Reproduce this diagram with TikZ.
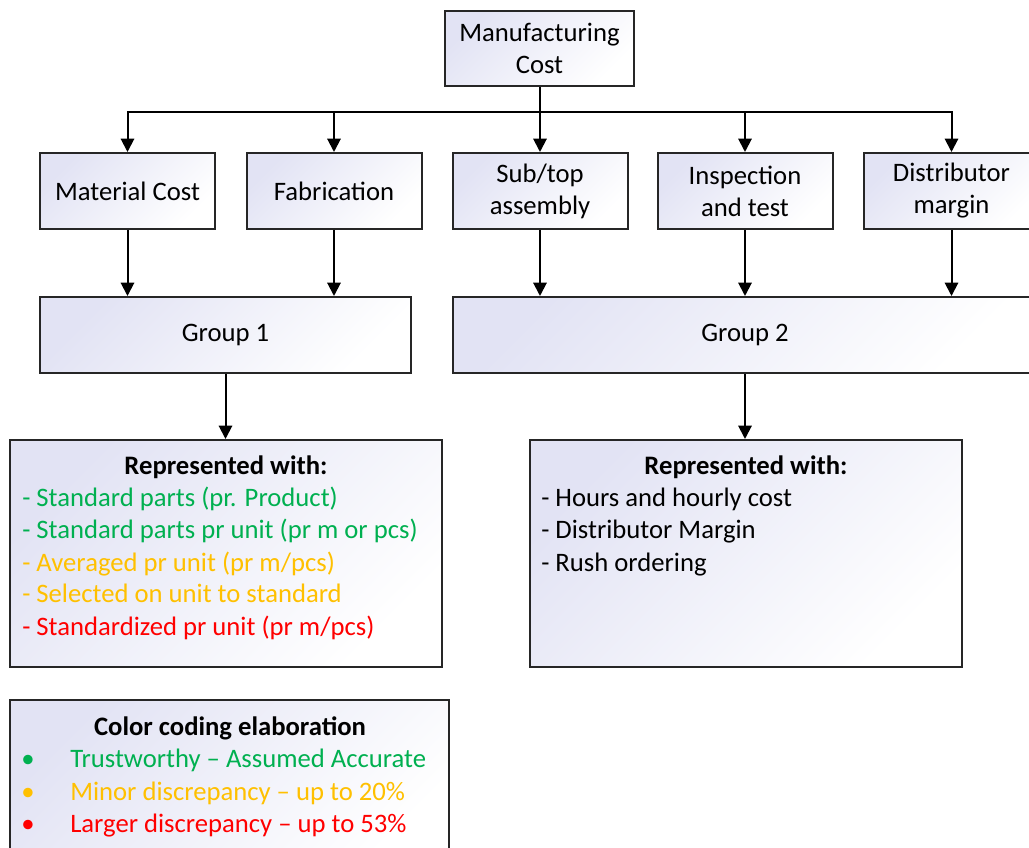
\documentclass[tikz,border=0pt]{standalone}
\usepackage{fontspec}
\setmainfont{Carlito}
\usetikzlibrary{arrows.meta}
\definecolor{okgreen}{RGB}{0,176,80}
\definecolor{midamber}{RGB}{255,192,0}
\definecolor{badred}{RGB}{255,0,0}
\definecolor{boxtint}{RGB}{226,227,244}
\definecolor{boxline}{RGB}{38,38,38}

\begin{document}
\begin{tikzpicture}[x=0.75pt,y=-0.75pt,
    every node/.style={font=\fontsize{20}{24}\selectfont},
    costbox/.style={draw=boxline, line width=1.5pt, top color=boxtint, bottom color=white,
      shading angle=45, align=center, inner sep=0pt},
    stagebox/.style={costbox, minimum width=131.25pt, minimum height=57pt},
    groupbox/.style={costbox, minimum height=57pt},
    notebox/.style={costbox, minimum width=324pt, minimum height=170.25pt},
    headline/.style={anchor=base, inner sep=0pt, font=\fontsize{20}{24}\selectfont\bfseries},
    listline/.style={anchor=base west, inner sep=0pt},
    flow/.style={line width=1.5pt, -{Triangle[width=10pt,length=10pt]}}]
  \useasboundingbox (0,0) rectangle (1029,848);

  % top of the tree
  \node[costbox, minimum width=141.75pt, minimum height=56.25pt] (mfg) at (539.5,48.5) {Manufacturing\\Cost};
  \coordinate (split) at (539.5,112);
  \draw[line width=1.5pt] (mfg.south) -- (split);

  % cost elements
  \foreach \name/\x/\txt in {mat/127.5/Material Cost, fab/334/Fabrication, sub/540/{Sub/top\\assembly},
      insp/745/{Inspection\\and test}, dist/951.5/{Distributor\\margin}}
  {
    \node[stagebox] (\name) at (\x,191) {\txt};
    \draw[flow] (split) -| (\name.north);
  }

  % groups
  \node[groupbox, minimum width=278.25pt] (grp1) at (225.5,335) {Group 1};
  \node[groupbox, minimum width=438pt] (grp2) at (745,335) {Group 2};
  \foreach \name in {mat,fab}
    \draw[flow] (\name.south) -- (\name.south |- grp1.north);
  \foreach \name in {sub,insp,dist}
    \draw[flow] (\name.south) -- (\name.south |- grp2.north);

  % representation boxes
  \node[notebox] (rep1) at (226,553.5) {};
  \node[notebox] (rep2) at (746,553.5) {};
  \draw[flow] (grp1.south) -- (grp1.south |- rep1.north);
  \draw[flow] (grp2.south) -- (grp2.south |- rep2.north);

  \node[headline] (head1) at (226,475) {Represented with:};
  \foreach \col/\txt [count=\i] in {okgreen/{Standard parts (pr. Product)}, okgreen/{Standard parts pr unit (pr m or pcs)},
      midamber/{Averaged pr unit (pr m/pcs)}, midamber/{Selected on unit to standard}, badred/{Standardized pr unit (pr m/pcs)}}
    \node[listline, text=\col] (item1\i) at (22,475+32*\i) {- \txt};

  \node[headline] (head2) at (746,475) {Represented with:};
  \foreach \txt [count=\i] in {Hours and hourly cost, Distributor Margin, Rush ordering}
    \node[listline] (item2\i) at (541,475+32*\i) {- \txt};

  % colour legend
  \node[costbox, minimum width=329.25pt, minimum height=127.5pt] (legend) at (229.5,785) {};
  \node[headline] (legendhead) at (230,735) {Color coding elaboration};
  \foreach \col/\txt [count=\i] in {okgreen/{Trustworthy – Assumed Accurate}, midamber/{Minor discrepancy – up to 20\%},
      badred/{Larger discrepancy – up to 53\%}}
  {
    \node[anchor=base, inner sep=0pt, text=\col] (dot\i) at (28,735+32.5*\i) {\textbullet};
    \node[listline, text=\col] (key\i) at (70,735+32.5*\i) {\txt};
  }
\end{tikzpicture}
\end{document}
